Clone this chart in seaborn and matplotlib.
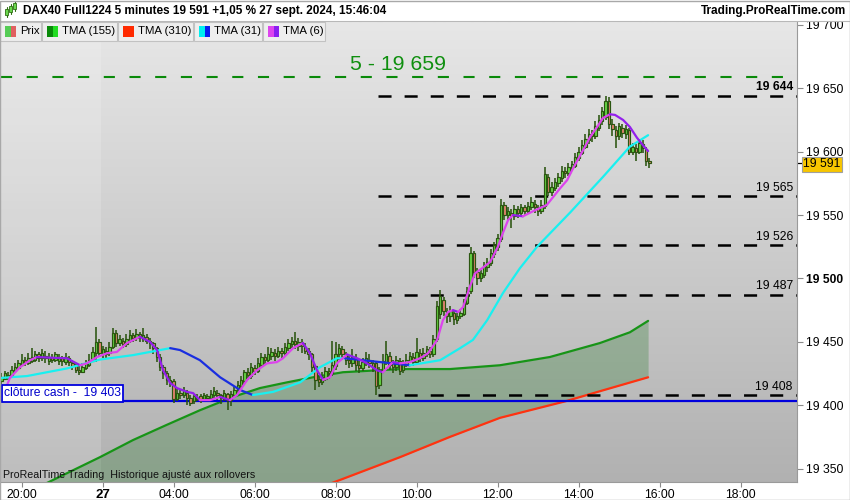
import numpy as np
import matplotlib
matplotlib.use("Agg")
import matplotlib.pyplot as plt
import matplotlib.transforms as mtransforms
from matplotlib.colors import LinearSegmentedColormap
from matplotlib.patches import Rectangle
from matplotlib.lines import Line2D
import seaborn as sns

sns.set_theme(style="white")
plt.rcParams['font.family'] = ['Liberation Sans', 'DejaVu Sans']
plt.rcParams['lines.scale_dashes'] = False

# ---------------- data (5-minute candles, bar index 0 = 19:30 on the 26th) ----------------
opens = [19419,19421,19422,19424,19427,19429,19432,19436,19433,19435,
         19436,19440,19437,19437,19435,19438,19436,19435,19437,19434,
         19437,19433,19431,19428,19426,19429,19432,19435,19441,19450,
         19440,19443,19441,19446,19457,19449,19451,19448,19451,19455,
         19453,19456,19452,19454,19451,19449,19445,19438,19430,19425,
         19420,19419,19405,19410,19408,19410,19406,19403,19405,19407,
         19405,19406,19406,19408,19410,19408,19405,19409,19404,19408,
         19412,19415,19419,19426,19423,19429,19427,19432,19438,19436,
         19439,19441,19439,19443,19441,19445,19448,19451,19447,19450,
         19446,19443,19440,19431,19421,19418,19421,19427,19425,19431,
         19440,19444,19440,19436,19433,19437,19432,19429,19433,19436,
         19433,19433,19416,19428,19434,19439,19433,19430,19435,19428,
         19432,19435,19438,19434,19441,19437,19440,19443,19440,19452,
         19472,19483,19474,19470,19473,19467,19470,19472,19481,19490,
         19520,19505,19500,19503,19509,19512,19519,19525,19531,19558,
         19550,19552,19549,19555,19552,19556,19553,19556,19559,19556,
         19553,19557,19580,19568,19571,19575,19579,19585,19583,19587,
         19589,19595,19599,19604,19609,19614,19612,19619,19624,19627,
         19640,19622,19617,19612,19619,19614,19617,19600,19603,19600,
         19606,19602,19593]
closes = [19422,19425,19424,19428,19430,19433,19436,19434,19437,19438,
          19440,19437,19441,19439,19438,19436,19440,19437,19435,19438,
          19434,19431,19428,19426,19430,19433,19436,19442,19450,19441,
          19444,19440,19446,19457,19449,19452,19448,19452,19455,19453,
          19456,19454,19455,19451,19449,19445,19438,19430,19425,19420,
          19418,19405,19410,19408,19411,19406,19402,19407,19406,19405,
          19408,19407,19409,19411,19408,19406,19410,19404,19409,19412,
          19416,19420,19426,19424,19430,19427,19433,19438,19436,19440,
          19442,19439,19443,19441,19446,19449,19451,19448,19450,19447,
          19443,19440,19430,19420,19418,19422,19427,19425,19432,19440,
          19445,19440,19436,19433,19438,19432,19429,19434,19437,19433,
          19430,19415,19428,19435,19440,19432,19430,19436,19427,19433,
          19436,19439,19434,19442,19437,19441,19444,19440,19452,19478,
          19486,19474,19470,19474,19468,19470,19473,19482,19490,19520,
          19505,19500,19504,19510,19513,19520,19526,19532,19558,19550,
          19553,19549,19555,19552,19556,19553,19557,19560,19556,19553,
          19558,19582,19568,19572,19576,19580,19585,19583,19588,19590,
          19596,19600,19605,19610,19614,19612,19620,19625,19632,19640,
          19622,19618,19612,19620,19615,19618,19600,19604,19600,19607,
          19603,19593,19591]
highs = [19425,19427,19426,19431,19433,19436,19440,19438,19441,19445,
         19443,19442,19444,19443,19441,19440,19442,19440,19439,19441,
         19439,19436,19433,19431,19433,19436,19440,19446,19462,19452,
         19447,19446,19450,19461,19459,19455,19453,19456,19459,19457,
         19460,19458,19461,19456,19453,19450,19446,19440,19432,19427,
         19423,19421,19413,19412,19414,19412,19408,19409,19409,19409,
         19410,19409,19412,19414,19412,19409,19412,19410,19411,19414,
         19419,19423,19428,19429,19433,19432,19437,19441,19440,19446,
         19445,19444,19446,19445,19449,19452,19454,19458,19453,19452,
         19449,19445,19441,19432,19424,19426,19430,19429,19451,19450,
         19448,19447,19442,19439,19444,19440,19435,19437,19442,19440,
         19436,19434,19430,19440,19451,19442,19436,19439,19437,19436,
         19440,19442,19441,19453,19444,19445,19447,19446,19455,19482,
         19491,19485,19477,19478,19475,19473,19476,19484,19493,19525,
         19522,19508,19507,19513,19516,19523,19529,19535,19563,19560,
         19556,19555,19558,19557,19559,19558,19560,19564,19562,19558,
         19562,19588,19582,19576,19579,19583,19589,19588,19591,19593,
         19599,19604,19609,19614,19618,19617,19624,19629,19635,19644,
         19643,19626,19620,19623,19622,19621,19619,19607,19606,19610,
         19609,19604,19595]
lows = [19417,19420,19420,19423,19425,19428,19431,19431,19432,19433,
        19434,19434,19435,19433,19432,19433,19434,19432,19431,19432,
        19431,19428,19425,19424,19425,19428,19430,19434,19434,19438,
        19437,19437,19439,19444,19446,19447,19445,19446,19449,19450,
        19451,19450,19450,19448,19444,19440,19434,19427,19421,19416,
        19414,19402,19403,19405,19406,19400,19399,19401,19403,19402,
        19403,19404,19404,19406,19404,19401,19403,19396,19399,19406,
        19410,19413,19417,19420,19421,19424,19425,19430,19432,19434,
        19436,19435,19437,19437,19439,19443,19445,19444,19443,19441,
        19440,19436,19426,19412,19414,19416,19419,19421,19423,19428,
        19436,19436,19432,19429,19430,19427,19425,19427,19431,19429,
        19426,19408,19413,19426,19432,19428,19425,19427,19424,19425,
        19430,19433,19431,19432,19434,19435,19438,19437,19438,19450,
        19468,19470,19465,19466,19463,19464,19468,19470,19479,19488,
        19500,19495,19497,19500,19505,19510,19516,19522,19529,19546,
        19546,19540,19546,19548,19550,19549,19551,19554,19552,19549,
        19551,19555,19565,19565,19569,19572,19576,19579,19581,19585,
        19587,19593,19597,19602,19606,19608,19610,19616,19621,19625,
        19618,19612,19603,19609,19611,19610,19597,19597,19593,19598,
        19599,19589,19587]

# moving averages (bar index, value)
tma6_bar = [0.5,2.5,5.5,8.5,10.5,14.4,19.4,23.3,25.3,28.3,31.3,34.2,37.2,41,44,46.1,47.9,50,52,55,
            56.8,58.8,61.8,64.8,67.7,69.8,72.8,75.7,78.7,81.6,83.4,86.4,89.3,91.4,93.5,95.3,97.3,99.4,
            102.4,105.4,108.3,111.3,113,116,118.1,121,124,126.4,129.1,130.8,132.3,133.8,135.3,136.8,
            138.8,140.3,142.4,144.8,147.1,148.6,150.1,151.6,154.5,157.5,161.6,163.4,165.5,167.6,169.4,
            172.3,174.4,176.5,178.2,180.3,181.8,184.2,186.2,188.3,190.1,191.6]
tma6_val = [19408,19421.5,19430,19435.5,19438,19437.5,19437,19431.5,19433,19438,19441,19442,19449,19454,
            19450,19443.5,19427.5,19417.5,19413.5,19410.5,19409.5,19404,19404,19406.5,19404,19408,19420,
            19427.5,19433,19434,19437,19445,19449,19441,19427.5,19420,19422,19433,19440,19437,19433,
            19427.5,19426,19434,19433,19434,19437,19441,19451.5,19467,19473.5,19475,19473.5,19477.5,
            19493.5,19504,19508,19513,19525,19536,19546,19550,19549,19553,19558,19564,19571,19577.5,
            19587,19601,19611.5,19619.5,19626.5,19629.5,19629,19625,19619.5,19611,19605,19600.5]
tma31_bar = [0,7.6,19.4,29.2,39,50,52.9,58.8,64.8,70.7,74.5,80.5,88.5,94.4,99.4,101.8,112.2,121,130,
             135.9,139.7,143.9,148.6,153.6,158.7,168.5,178.2,186.2,191.6]
tma31_val = [19421.5,19423,19429,19436,19439.5,19445,19443.5,19435.5,19422,19412,19408,19410.5,19418,
             19430,19437,19437,19434,19431.5,19435.5,19445,19451.5,19467,19488.5,19508,19525,19552,
             19580,19604,19613]
tma155_bar = [0,15.3,29.2,39,49,58.8,68.6,76.6,84.6,92.3,101.2,111.3,118.1,132.9,147.7,162.5,177.3,186.2,191.6]
tma155_val = [19321,19341,19359,19372.5,19384.5,19396,19406.5,19413.5,19418,19422,19426,19427.5,
              19428.5,19428.5,19431.5,19438,19449,19457.5,19466.5]
tma310_bar = [0,50,100.3,118.1,132.9,147.7,167,177.3,191.6]
tma310_val = [19241,19291,19341,19359,19375,19390,19403,19411,19422]

levels = [19644, 19565, 19526, 19487, 19408]
level_start_bar = 111.6
target_level = 19659
cash_close = 19403
last_price = 19591

xtick_bars = [6, 30, 51, 75, 99, 123, 147, 171, 195, 219]
xtick_labels = ['20:00', '27', '04:00', '06:00', '08:00', '10:00', '12:00', '14:00', '16:00', '18:00']
ytick_vals = [19350, 19400, 19450, 19500, 19550, 19600, 19650, 19700]

assert len(opens) == len(closes) == len(highs) == len(lows) == 193

# ---------------- figure ----------------
W, H = 850, 500
fig = plt.figure(figsize=(8.5, 5), dpi=100)
fig.patch.set_facecolor('white')
PL, PR, PT, PB = 1, 797, 22, 482
ax = fig.add_axes([PL / W, 1 - PB / H, (PR - PL) / W, (PB - PT) / H])
px_per_bar = 3.375
x0px = 1.45
xmin = (PL - x0px) / px_per_bar
xmax = (PR - x0px) / px_per_bar
ymin, ymax = 19339.4, 19702.3
ax.set_xlim(xmin, xmax)
ax.set_ylim(ymin, ymax)

# background gradient
cmap = LinearSegmentedColormap.from_list('bg', ['#b1b1b1', '#e7e7e7'])
ax.imshow(np.linspace(0, 1, 256).reshape(-1, 1), extent=[xmin, xmax, ymin, ymax],
          origin='lower', cmap=cmap, aspect='auto', zorder=0)
ax.axvspan(xmin, 29.5, color='white', alpha=0.17, lw=0, zorder=0.5)

# fill between TMA155 and TMA310
grid = np.union1d(tma155_bar, tma310_bar)
g_on = np.interp(grid, tma155_bar, tma155_val)
r_on = np.interp(grid, tma310_bar, tma310_val)
ax.fill_between(grid, r_on, g_on, where=g_on >= r_on, color='#2f7d32', alpha=0.30, lw=0, zorder=1)


def slope_lines(xs, ys, up, down, lw, z):
    xs = list(xs); ys = list(ys)
    cols = [up if ys[i + 1] - ys[i] >= 0 else down for i in range(len(xs) - 1)]
    start = 0
    for i in range(1, len(cols) + 1):
        if i == len(cols) or cols[i] != cols[start]:
            sns.lineplot(x=xs[start:i + 1], y=ys[start:i + 1], color=cols[start], lw=lw,
                         ax=ax, sort=False, estimator=None, zorder=z, legend=False)
            start = i


slope_lines(tma155_bar, tma155_val, '#179417', '#2ee02e', 1.6, 2)
sns.lineplot(x=tma310_bar, y=tma310_val, color='#ff3210', lw=1.6, ax=ax, sort=False,
             estimator=None, zorder=2, legend=False)

# horizontal levels
ax.axhline(target_level, color='#0a8a0a', lw=1.5, dashes=(8, 10.5), zorder=2.5)
ax.text((398 - x0px) / px_per_bar, target_level + 2.5, '5 - 19 659', color='#0f8f0f',
        fontsize=15.3, ha='center', va='bottom', zorder=6)
for lv in levels:
    ax.plot([level_start_bar, xmax], [lv, lv], color='black', lw=1.8, dashes=(9.4, 9.4),
            solid_capstyle='butt', dash_capstyle='butt', zorder=2.6)
    ax.annotate(f"{lv // 1000} {lv % 1000:03d}", xy=(xmax, lv), xytext=(-3, 1.8),
                textcoords='offset points', ha='right', va='bottom', fontsize=8.7,
                fontweight='bold' if lv == max(levels) else 'normal', color='black', zorder=6)

ax.axhline(cash_close, color='#0000dd', lw=1.6, zorder=3)
ax.text((4 - PL) / (PR - PL), cash_close + 1.6, 'clôture cash -  19 403', color='#0000cc',
        fontsize=8.7, ha='left', va='bottom', transform=mtransforms.blended_transform_factory(ax.transAxes, ax.transData),
        bbox=dict(boxstyle='square,pad=0.18', fc='white', ec='#0000dd', lw=1.3), zorder=7)

# candles
idx = np.arange(len(closes))
o = np.array(opens, float); c = np.array(closes, float)
h = np.array(highs, float); l = np.array(lows, float)
outline = '#2b5510'
ax.vlines(idx, l, h, color=outline, lw=1.15, zorder=3.8)
body_b = np.minimum(o, c)
body_h = np.maximum(np.abs(c - o), 0.6)
fills = np.where(c >= o, '#66d844', '#e58470')
ax.bar(idx, body_h, bottom=body_b, width=0.7, color=fills, edgecolor=outline, lw=0.85, zorder=4)

# short MAs over candles
slope_lines(tma31_bar, tma31_val, '#19f0f0', '#1a2ee0', 1.6, 5)
slope_lines(tma6_bar, tma6_val, '#dc44ec', '#9320ec', 1.6, 5.2)

# bottom note
ax.text(2 / (PR - PL), 7 / (PB - PT), 'ProRealTime Trading  Historique ajusté aux rollovers',
        transform=ax.transAxes, fontsize=7.7, color='#111111', ha='left', va='center', zorder=8)

# axes styling
for s in ['top', 'left']:
    ax.spines[s].set_visible(False)
for s in ['right', 'bottom']:
    ax.spines[s].set_color('#9a9a9a')
    ax.spines[s].set_linewidth(0.8)
ax.yaxis.tick_right()
ax.set_yticks(ytick_vals)
ax.set_yticklabels([f"{v // 1000} {v % 1000:03d}" for v in ytick_vals])
ax.set_xticks(xtick_bars)
ax.set_xticklabels(xtick_labels)
ax.tick_params(axis='y', direction='out', length=4, width=0.8, color='#8a8a8a', pad=2.5,
               labelsize=8.7, labelcolor='black', right=True, left=False)
ax.tick_params(axis='x', direction='out', length=3.5, width=0.8, color='#8a8a8a', pad=1.5,
               labelsize=8.7, labelcolor='black', bottom=True)
for t in ax.get_yticklabels():
    if t.get_text() == '19 500':
        t.set_fontweight('bold')
for t in ax.get_xticklabels():
    if t.get_text() == '27':
        t.set_fontweight('bold')
        t.set_fontsize(9.5)
ax.grid(False)

# last price marker
bt = mtransforms.blended_transform_factory(ax.transAxes, ax.transData)
ax.add_line(Line2D([1.0, 1.0065], [last_price, last_price], transform=bt, color='black',
                   lw=0.9, clip_on=False))
ax.text(1.0 + 6 / (PR - PL), last_price - 0.8, '19 591', transform=bt, fontsize=8.7, ha='left',
        va='center', color='black', clip_on=False,
        bbox=dict(boxstyle='square,pad=0.12', fc='#f7c600', ec='#a0a0a0', lw=0.8), zorder=9)


# ---------------- header & legend (figure pixel coords) ----------------
def fx(px):
    return px / W


def fy(py):
    return 1 - py / H


fig.add_artist(Rectangle((0, fy(21)), 1, 21 / H, transform=fig.transFigure, fc='white',
                         ec='none', zorder=10))
fig.add_artist(Line2D([0, 1], [fy(21), fy(21)], transform=fig.transFigure, color='#b8b8b8', lw=0.8, zorder=11))
fig.text(fx(23), fy(11), 'DAX40 Full1224 5 minutes 19 591 +1,05 % 27 sept. 2024, 15:46:04',
         fontsize=8.5, fontweight='bold', ha='left', va='center', color='black', zorder=12)
fig.text(fx(846), fy(11), 'Trading.ProRealTime.com', fontsize=8.5, fontweight='bold',
         ha='right', va='center', color='black', zorder=12)
# small candle icon
for (cx, top, bot, wt, wb) in [(6.5, 9, 15, 7, 17), (10.5, 6, 12, 4, 14), (14.5, 3, 9, 1, 11)]:
    fig.add_artist(Line2D([fx(cx), fx(cx)], [fy(wt), fy(wb)], transform=fig.transFigure,
                          color='#2e6e12', lw=0.8, zorder=12))
    fig.add_artist(Rectangle((fx(cx - 1.3), fy(bot)), 2.6 / W, (bot - top) / H, transform=fig.transFigure,
                             fc='#6bd84e', ec='#2e6e12', lw=0.6, zorder=13))

legend_items = [('Prix', 0, 41, '#55cc55', '#e06060'),
                ('TMA (155)', 42, 117, '#0a8a0a', '#22dd22'),
                ('TMA (310)', 118, 193, '#ff2a00', '#ff2a00'),
                ('TMA (31)', 194, 262, '#00f0f0', '#0a1ef0'),
                ('TMA (6)', 263, 325, '#dd44ee', '#8a1ef0')]
for name, x0, x1, c1, c2 in legend_items:
    fig.add_artist(Rectangle((fx(x0), fy(41)), (x1 - x0) / W, 19 / H, transform=fig.transFigure,
                             fc='#eeeeee', ec='#c2c2c2', lw=0.8, zorder=10))
    fig.add_artist(Rectangle((fx(x0 + 5), fy(37)), 5.5 / W, 11 / H, transform=fig.transFigure,
                             fc=c1, ec='none', zorder=11))
    fig.add_artist(Rectangle((fx(x0 + 10.5), fy(37)), 5.5 / W, 11 / H, transform=fig.transFigure,
                             fc=c2, ec='none', zorder=11))
    fig.text(fx(x0 + 20), fy(31.5), name, fontsize=8.2, ha='left', va='center', color='black', zorder=12)

# outer border
fig.add_artist(Rectangle((0, 0), 1 - 0.5 / W, 1 - 0.5 / H, transform=fig.transFigure, fc='none',
                         ec='#a8a8a8', lw=1.0, zorder=20))

fig.savefig('out.png', dpi=100)
